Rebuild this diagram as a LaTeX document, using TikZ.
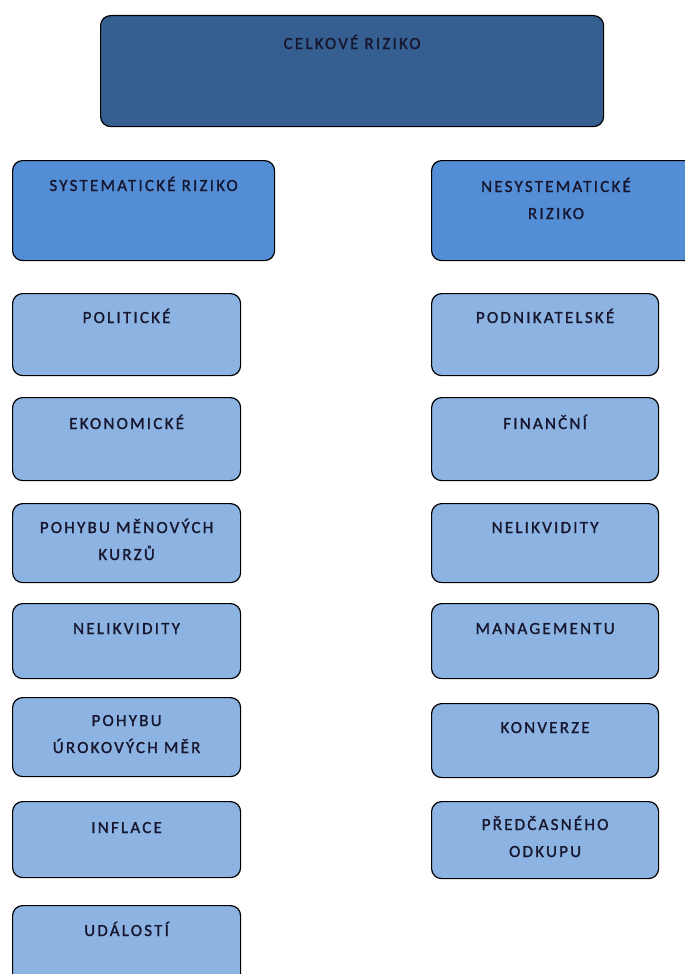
\documentclass[tikz,border=0pt]{standalone}
\usepackage{fontspec}
\setmainfont{Carlito}[LetterSpace=13, FakeBold=1.2]
\definecolor{topfill}{HTML}{365F91}
\definecolor{midfill}{HTML}{538DD5}
\definecolor{leaffill}{HTML}{8DB3E2}
\definecolor{txt}{HTML}{16162E}
\tikzset{
  box/.style={draw=black, line width=1.2pt, rounded corners=10pt, inner sep=0pt, anchor=north west},
  topbox/.style={box, fill=topfill},
  midbox/.style={box, fill=midfill},
  leafbox/.style={box, fill=leaffill},
  lbl/.style={anchor=base, text=txt, font=\fontsize{17}{27}\selectfont, align=center, inner sep=0pt},
}
\begin{document}
\begin{tikzpicture}[x=1pt, y=-1pt]
\useasboundingbox (0,0) rectangle (685,974);
% top
\node[topbox, minimum width=503pt, minimum height=111pt] (celk) at (100,15) {};
\node[lbl] (celkt) at ([yshift=-34pt]celk.north) {CELKOVÉ RIZIKO};
% level 2
\node[midbox, minimum width=262pt, minimum height=100pt] (sys) at (12,160) {};
\node[lbl] (syst) at ([yshift=-31pt]sys.north) {SYSTEMATICKÉ RIZIKO};
\node[midbox, minimum width=270pt, minimum height=100pt] (nes) at (431,160) {};
\node[lbl] (nest) at (556,219) {NESYSTEMATICKÉ\\RIZIKO};
% left column
\node[leafbox, minimum width=228pt, minimum height=82pt] (l1) at (12,293) {};
\node[lbl] (l1t) at ([yshift=-30pt]l1.north) {POLITICKÉ};
\node[leafbox, minimum width=228pt, minimum height=83pt] (l2) at (12,397) {};
\node[lbl] (l2t) at ([yshift=-32pt]l2.north) {EKONOMICKÉ};
\node[leafbox, minimum width=228pt, minimum height=79pt] (l3) at (12,503) {};
\node[lbl] (l3t) at ([yshift=-57pt]l3.north) {POHYBU MĚNOVÝCH\\KURZŮ};
\node[leafbox, minimum width=228pt, minimum height=75pt] (l4) at (12,603) {};
\node[lbl] (l4t) at ([yshift=-31pt]l4.north) {NELIKVIDITY};
\node[leafbox, minimum width=228pt, minimum height=79pt] (l5) at (12,697) {};
\node[lbl] (l5t) at ([yshift=-56pt]l5.north) {POHYBU\\ÚROKOVÝCH MĚR};
\node[leafbox, minimum width=228pt, minimum height=76pt] (l6) at (12,801) {};
\node[lbl] (l6t) at ([yshift=-32pt]l6.north) {INFLACE};
\node[leafbox, minimum width=228pt, minimum height=90pt] (l7) at (12,905) {};
\node[lbl] (l7t) at ([yshift=-31pt]l7.north) {UDÁLOSTÍ};
% right column
\node[leafbox, minimum width=227pt, minimum height=82pt] (r1) at (431,293) {};
\node[lbl] (r1t) at ([yshift=-30pt]r1.north) {PODNIKATELSKÉ};
\node[leafbox, minimum width=227pt, minimum height=83pt] (r2) at (431,397) {};
\node[lbl] (r2t) at ([yshift=-32pt]r2.north) {FINANČNÍ};
\node[leafbox, minimum width=227pt, minimum height=79pt] (r3) at (431,503) {};
\node[lbl] (r3t) at ([yshift=-30pt]r3.north) {NELIKVIDITY};
\node[leafbox, minimum width=227pt, minimum height=75pt] (r4) at (431,603) {};
\node[lbl] (r4t) at ([yshift=-31pt]r4.north) {MANAGEMENTU};
\node[leafbox, minimum width=227pt, minimum height=74pt] (r5) at (431,703) {};
\node[lbl] (r5t) at ([yshift=-30pt]r5.north) {KONVERZE};
\node[leafbox, minimum width=227pt, minimum height=77pt] (r6) at (431,801) {};
\node[lbl] (r6t) at ([yshift=-56pt]r6.north) {PŘEDČASNÉHO\\ODKUPU};
\end{tikzpicture}
\end{document}
